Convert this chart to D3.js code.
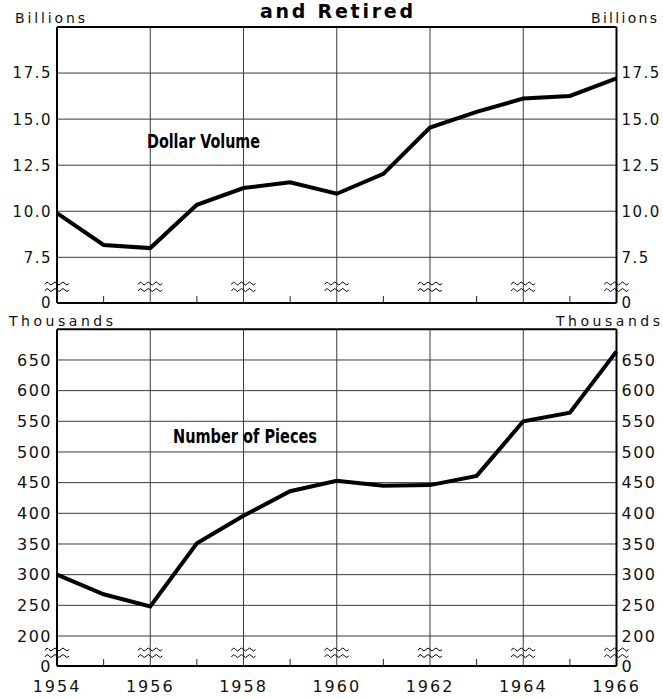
<!DOCTYPE html>
<html><head><meta charset="utf-8">
<script src="https://cdn.jsdelivr.net/npm/d3@7"></script>
<style>body{margin:0;background:#fff}svg{display:block}</style>
</head><body>
<svg id="c" width="663" height="699"></svg>
<script>
// ---- data ----
const years = [1954,1955,1956,1957,1958,1959,1960,1961,1962,1963,1964,1965,1966];
const dollarVolume = [9.9, 8.17, 8.0, 10.35, 11.26, 11.57, 10.95, 12.03, 14.54, 15.39, 16.12, 16.26, 17.21];
const pieces = [300, 268, 248, 351, 396, 436, 453, 445, 446, 461, 550, 564, 664];
const dollarTicks = [7.5, 10.0, 12.5, 15.0, 17.5];
const pieceTicks = [200, 250, 300, 350, 400, 450, 500, 550, 600, 650];
const yearTicks = [1954, 1956, 1958, 1960, 1962, 1964, 1966];
const minorYears = [1955, 1957, 1959, 1961, 1963, 1965];
const titleText = "and Retired";

const svg = d3.select("#c");
const FONT = "'DejaVu Sans', sans-serif";
const x = d3.scaleLinear().domain([1954, 1966]).range([57, 616.5]);

svg.append("text").attr("x", 336.5).attr("y", 18).attr("text-anchor", "middle")
  .attr("font-family", FONT).attr("font-weight", "bold").attr("font-size", 19)
  .attr("textLength", 153).text(titleText);

function wave(cx, cy) {
  const p = d3.path();
  p.moveTo(cx - 12, cy + 1);
  for (let i = 0; i < 3; i++) {
    const s = cx - 12 + i * 8;
    p.quadraticCurveTo(s + 2, cy - 3, s + 4, cy);
    p.quadraticCurveTo(s + 6, cy + 3, s + 8, cy);
  }
  return p.toString();
}

function panel(cfg) {
  const g = svg.append("g");
  const y = cfg.y;
  const top = y(cfg.domainTop);
  const L = x.range()[0], R = x.range()[1];
  g.selectAll("line.h").data(cfg.ticks).join("line")
    .attr("x1", L).attr("x2", R).attr("y1", d => y(d)).attr("y2", d => y(d))
    .attr("stroke", "#3a3a3a").attr("stroke-width", 1);
  g.selectAll("line.v").data(yearTicks.slice(1, -1)).join("line")
    .attr("x1", d => x(d)).attr("x2", d => x(d)).attr("y1", top).attr("y2", cfg.base)
    .attr("stroke", "#3a3a3a").attr("stroke-width", 1);
  g.selectAll("line.m").data(minorYears).join("line")
    .attr("x1", d => x(d)).attr("x2", d => x(d)).attr("y1", cfg.base).attr("y2", cfg.base - 7)
    .attr("stroke", "#222").attr("stroke-width", 1);
  g.append("line").attr("x1", L).attr("x2", R).attr("y1", top).attr("y2", top).attr("stroke", "#000").attr("stroke-width", 2);
  g.append("line").attr("x1", L).attr("x2", R).attr("y1", cfg.base).attr("y2", cfg.base).attr("stroke", "#000").attr("stroke-width", 2);
  g.append("line").attr("x1", L).attr("x2", L).attr("y1", top).attr("y2", cfg.base).attr("stroke", "#000").attr("stroke-width", 2);
  g.append("line").attr("x1", R).attr("x2", R).attr("y1", top).attr("y2", cfg.base).attr("stroke", "#000").attr("stroke-width", 2);
  yearTicks.forEach(yr => {
    [cfg.brk, cfg.brk + 6.5].forEach(by => {
      g.append("path").attr("d", wave(x(yr), by)).attr("fill", "none")
        .attr("stroke", "#000").attr("stroke-width", 1);
    });
  });
  const labs = cfg.ticks.map(t => ({v: t, y: y(t), s: cfg.fmt(t)})).concat([{v: 0, y: cfg.base, s: "0"}]);
  g.selectAll("text.l").data(labs).join("text")
    .attr("x", L - 5).attr("y", d => d.y).attr("dy", "0.36em").attr("text-anchor", "end")
    .attr("font-family", FONT).attr("font-size", cfg.fs).attr("letter-spacing", cfg.ls)
    .attr("fill", "#111").text(d => d.s);
  g.selectAll("text.r").data(labs).join("text")
    .attr("x", R + 5).attr("y", d => d.y).attr("dy", "0.36em").attr("text-anchor", "start")
    .attr("font-family", FONT).attr("font-size", cfg.fs).attr("letter-spacing", cfg.ls)
    .attr("fill", "#111").text(d => d.s);
  g.append("text").attr("x", cfg.unitL[0]).attr("y", cfg.unitY).attr("font-family", FONT)
    .attr("font-size", 14).attr("fill", "#111").attr("textLength", cfg.unitL[1]).text(cfg.unit);
  g.append("text").attr("x", cfg.unitR[0]).attr("y", cfg.unitY).attr("font-family", FONT)
    .attr("font-size", 14).attr("fill", "#111").attr("textLength", cfg.unitR[1]).text(cfg.unit);
  g.append("text").attr("x", cfg.lab[0]).attr("y", cfg.lab[1])
    .attr("font-family", "'DejaVu Sans Condensed', 'DejaVu Sans', sans-serif")
    .attr("font-stretch", "condensed").attr("font-weight", "bold").attr("font-size", 19)
    .attr("textLength", cfg.lab[2]).attr("lengthAdjust", "spacingAndGlyphs").text(cfg.label);
  const line = d3.line().x((d, i) => x(years[i])).y(d => y(d));
  g.append("path").datum(cfg.values).attr("d", line).attr("fill", "none")
    .attr("stroke", "#000").attr("stroke-width", 4).attr("stroke-linejoin", "miter");
}

panel({
  y: d3.scaleLinear().domain([7.5, 20]).range([257.3, 27]),
  domainTop: 20, base: 303, brk: 283.5,
  ticks: dollarTicks, fmt: d3.format(".1f"), fs: 15, ls: 1.5,
  unit: "Billions", unitY: 23, unitL: [15, 70], unitR: [591, 66],
  label: "Dollar Volume", lab: [147, 148, 113], values: dollarVolume
});
panel({
  y: d3.scaleLinear().domain([200, 700]).range([636, 329.3]),
  domainTop: 700, base: 666, brk: 649.5,
  ticks: pieceTicks, fmt: d3.format("d"), fs: 16, ls: 1.5,
  unit: "Thousands", unitY: 326, unitL: [9, 104], unitR: [556, 104],
  label: "Number of Pieces", lab: [173, 443, 144], values: pieces
});

svg.selectAll("text.x").data(yearTicks).join("text")
  .attr("x", d => x(d)).attr("y", 692).attr("text-anchor", "middle")
  .attr("font-family", FONT).attr("font-size", 16).attr("letter-spacing", 2)
  .attr("fill", "#111").text(d => d);
</script>
</body></html>
